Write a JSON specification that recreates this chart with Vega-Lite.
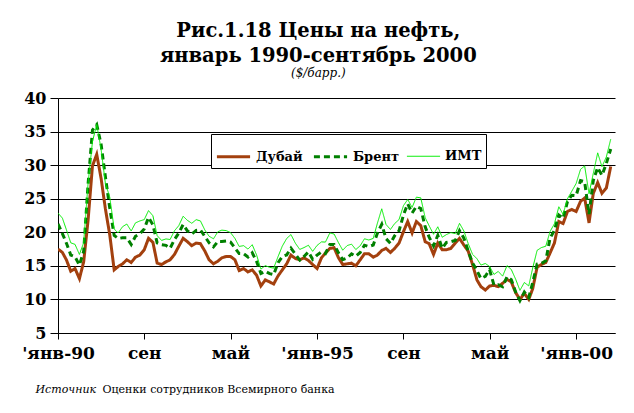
{
  "$schema": "https://vega.github.io/schema/vega-lite/v6.json",
  "width": 557,
  "height": 235,
  "autosize": {"type": "none"},
  "padding": {"left": 58, "top": 98, "right": 19, "bottom": 80},
  "background": "white",
  "title": {
    "text": ["Рис.1.18 Цены на нефть,", "январь 1990-сентябрь 2000"],
    "subtitle": "($/барр.)",
    "anchor": "middle",
    "frame": "bounds"
  },
  "data": {
    "values": [
      {"date": "1990-01-01", "Дубай": 17.5, "Брент": 21.25, "ИМТ": 22.86},
      {"date": "1990-02-01", "Дубай": 17.0, "Брент": 19.81, "ИМТ": 22.11},
      {"date": "1990-03-01", "Дубай": 15.9, "Брент": 18.39, "ИМТ": 20.39},
      {"date": "1990-04-01", "Дубай": 14.2, "Брент": 16.61, "ИМТ": 18.43},
      {"date": "1990-05-01", "Дубай": 14.6, "Брент": 16.35, "ИМТ": 18.2},
      {"date": "1990-06-01", "Дубай": 13.1, "Брент": 15.1, "ИМТ": 16.7},
      {"date": "1990-07-01", "Дубай": 15.6, "Брент": 17.17, "ИМТ": 18.45},
      {"date": "1990-08-01", "Дубай": 21.8, "Брент": 27.17, "ИМТ": 27.31},
      {"date": "1990-09-01", "Дубай": 29.9, "Брент": 35.23, "ИМТ": 33.51},
      {"date": "1990-10-01", "Дубай": 31.6, "Брент": 36.02, "ИМТ": 36.04},
      {"date": "1990-11-01", "Дубай": 28.0, "Брент": 33.07, "ИМТ": 32.33},
      {"date": "1990-12-01", "Дубай": 23.5, "Брент": 28.27, "ИМТ": 27.28},
      {"date": "1991-01-01", "Дубай": 19.6, "Брент": 23.57, "ИМТ": 25.23},
      {"date": "1991-02-01", "Дубай": 14.4, "Брент": 19.54, "ИМТ": 20.48},
      {"date": "1991-03-01", "Дубай": 14.9, "Брент": 19.08, "ИМТ": 19.9},
      {"date": "1991-04-01", "Дубай": 15.3, "Брент": 19.18, "ИМТ": 20.83},
      {"date": "1991-05-01", "Дубай": 15.9, "Брент": 19.19, "ИМТ": 21.23},
      {"date": "1991-06-01", "Дубай": 15.5, "Брент": 18.17, "ИМТ": 20.19},
      {"date": "1991-07-01", "Дубай": 16.3, "Брент": 19.4, "ИМТ": 21.4},
      {"date": "1991-08-01", "Дубай": 16.6, "Брент": 19.77, "ИМТ": 21.69},
      {"date": "1991-09-01", "Дубай": 17.4, "Брент": 20.5, "ИМТ": 21.89},
      {"date": "1991-10-01", "Дубай": 19.1, "Брент": 22.21, "ИМТ": 23.23},
      {"date": "1991-11-01", "Дубай": 18.5, "Брент": 21.11, "ИМТ": 22.46},
      {"date": "1991-12-01", "Дубай": 15.4, "Брент": 18.41, "ИМТ": 19.5},
      {"date": "1992-01-01", "Дубай": 15.2, "Брент": 18.16, "ИМТ": 18.79},
      {"date": "1992-02-01", "Дубай": 15.6, "Брент": 18.05, "ИМТ": 19.01},
      {"date": "1992-03-01", "Дубай": 15.9, "Брент": 17.63, "ИМТ": 18.92},
      {"date": "1992-04-01", "Дубай": 16.7, "Брент": 18.92, "ИМТ": 20.23},
      {"date": "1992-05-01", "Дубай": 17.9, "Брент": 19.89, "ИМТ": 20.98},
      {"date": "1992-06-01", "Дубай": 19.1, "Брент": 21.16, "ИМТ": 22.39},
      {"date": "1992-07-01", "Дубай": 18.6, "Брент": 20.21, "ИМТ": 21.78},
      {"date": "1992-08-01", "Дубай": 18.0, "Брент": 19.74, "ИМТ": 21.34},
      {"date": "1992-09-01", "Дубай": 18.4, "Брент": 20.28, "ИМТ": 21.88},
      {"date": "1992-10-01", "Дубай": 18.3, "Брент": 20.35, "ИМТ": 21.69},
      {"date": "1992-11-01", "Дубай": 17.2, "Брент": 19.38, "ИМТ": 20.34},
      {"date": "1992-12-01", "Дубай": 15.9, "Брент": 18.43, "ИМТ": 19.41},
      {"date": "1993-01-01", "Дубай": 15.3, "Брент": 17.83, "ИМТ": 19.03},
      {"date": "1993-02-01", "Дубай": 15.7, "Брент": 18.64, "ИМТ": 20.09},
      {"date": "1993-03-01", "Дубай": 16.2, "Брент": 18.62, "ИМТ": 20.32},
      {"date": "1993-04-01", "Дубай": 16.4, "Брент": 18.7, "ИМТ": 20.25},
      {"date": "1993-05-01", "Дубай": 16.4, "Брент": 18.55, "ИМТ": 19.95},
      {"date": "1993-06-01", "Дубай": 15.9, "Брент": 17.67, "ИМТ": 19.09},
      {"date": "1993-07-01", "Дубай": 14.3, "Брент": 16.83, "ИМТ": 17.89},
      {"date": "1993-08-01", "Дубай": 14.6, "Брент": 16.81, "ИМТ": 18.01},
      {"date": "1993-09-01", "Дубай": 14.1, "Брент": 16.31, "ИМТ": 17.5},
      {"date": "1993-10-01", "Дубай": 14.4, "Брент": 16.94, "ИМТ": 18.15},
      {"date": "1993-11-01", "Дубай": 13.6, "Брент": 15.65, "ИМТ": 16.61},
      {"date": "1993-12-01", "Дубай": 12.0, "Брент": 13.87, "ИМТ": 14.52},
      {"date": "1994-01-01", "Дубай": 12.9, "Брент": 14.19, "ИМТ": 15.03},
      {"date": "1994-02-01", "Дубай": 12.6, "Брент": 13.84, "ИМТ": 14.78},
      {"date": "1994-03-01", "Дубай": 12.3, "Брент": 13.69, "ИМТ": 14.66},
      {"date": "1994-04-01", "Дубай": 13.5, "Брент": 15.47, "ИМТ": 16.38},
      {"date": "1994-05-01", "Дубай": 14.4, "Брент": 16.38, "ИМТ": 17.94},
      {"date": "1994-06-01", "Дубай": 15.3, "Брент": 16.63, "ИМТ": 19.08},
      {"date": "1994-07-01", "Дубай": 16.6, "Брент": 17.63, "ИМТ": 19.66},
      {"date": "1994-08-01", "Дубай": 16.1, "Брент": 16.74, "ИМТ": 18.38},
      {"date": "1994-09-01", "Дубай": 15.9, "Брент": 15.85, "ИМТ": 17.45},
      {"date": "1994-10-01", "Дубай": 16.2, "Брент": 16.4, "ИМТ": 17.72},
      {"date": "1994-11-01", "Дубай": 15.8, "Брент": 17.07, "ИМТ": 18.07},
      {"date": "1994-12-01", "Дубай": 15.2, "Брент": 15.97, "ИМТ": 17.16},
      {"date": "1995-01-01", "Дубай": 14.6, "Брент": 16.6, "ИМТ": 18.04},
      {"date": "1995-02-01", "Дубай": 16.2, "Брент": 17.08, "ИМТ": 18.57},
      {"date": "1995-03-01", "Дубай": 16.9, "Брент": 16.84, "ИМТ": 18.54},
      {"date": "1995-04-01", "Дубай": 17.6, "Брент": 18.18, "ИМТ": 19.9},
      {"date": "1995-05-01", "Дубай": 17.7, "Брент": 18.18, "ИМТ": 19.74},
      {"date": "1995-06-01", "Дубай": 16.2, "Брент": 16.93, "ИМТ": 18.45},
      {"date": "1995-07-01", "Дубай": 15.2, "Брент": 15.92, "ИМТ": 17.33},
      {"date": "1995-08-01", "Дубай": 15.3, "Брент": 16.17, "ИМТ": 18.02},
      {"date": "1995-09-01", "Дубай": 15.4, "Брент": 16.78, "ИМТ": 18.23},
      {"date": "1995-10-01", "Дубай": 15.0, "Брент": 16.42, "ИМТ": 17.43},
      {"date": "1995-11-01", "Дубай": 15.9, "Брент": 17.0, "ИМТ": 17.99},
      {"date": "1995-12-01", "Дубай": 16.8, "Брент": 18.08, "ИМТ": 19.03},
      {"date": "1996-01-01", "Дубай": 16.8, "Брент": 17.87, "ИМТ": 18.85},
      {"date": "1996-02-01", "Дубай": 16.3, "Брент": 18.1, "ИМТ": 19.09},
      {"date": "1996-03-01", "Дубай": 16.6, "Брент": 19.86, "ИМТ": 21.33},
      {"date": "1996-04-01", "Дубай": 17.3, "Брент": 21.19, "ИМТ": 23.5},
      {"date": "1996-05-01", "Дубай": 17.6, "Брент": 19.05, "ИМТ": 21.17},
      {"date": "1996-06-01", "Дубай": 17.0, "Брент": 18.35, "ИМТ": 20.42},
      {"date": "1996-07-01", "Дубай": 17.6, "Брент": 19.49, "ИМТ": 21.3},
      {"date": "1996-08-01", "Дубай": 18.4, "Брент": 20.23, "ИМТ": 21.9},
      {"date": "1996-09-01", "Дубай": 20.1, "Брент": 22.59, "ИМТ": 23.97},
      {"date": "1996-10-01", "Дубай": 21.6, "Брент": 24.23, "ИМТ": 24.88},
      {"date": "1996-11-01", "Дубай": 19.9, "Брент": 22.86, "ИМТ": 23.71},
      {"date": "1996-12-01", "Дубай": 21.6, "Брент": 23.86, "ИМТ": 25.23},
      {"date": "1997-01-01", "Дубай": 21.0, "Брент": 23.54, "ИМТ": 25.13},
      {"date": "1997-02-01", "Дубай": 18.6, "Брент": 20.82, "ИМТ": 22.18},
      {"date": "1997-03-01", "Дубай": 18.3, "Брент": 19.28, "ИМТ": 20.97},
      {"date": "1997-04-01", "Дубай": 16.7, "Брент": 17.97, "ИМТ": 19.7},
      {"date": "1997-05-01", "Дубай": 18.4, "Брент": 19.55, "ИМТ": 20.82},
      {"date": "1997-06-01", "Дубай": 17.4, "Брент": 17.62, "ИМТ": 19.26},
      {"date": "1997-07-01", "Дубай": 17.4, "Брент": 18.49, "ИМТ": 19.66},
      {"date": "1997-08-01", "Дубай": 17.6, "Брент": 18.59, "ИМТ": 19.95},
      {"date": "1997-09-01", "Дубай": 18.4, "Брент": 18.78, "ИМТ": 19.8},
      {"date": "1997-10-01", "Дубай": 19.1, "Брент": 20.24, "ИМТ": 21.33},
      {"date": "1997-11-01", "Дубай": 18.1, "Брент": 19.12, "ИМТ": 20.19},
      {"date": "1997-12-01", "Дубай": 17.2, "Брент": 17.22, "ИМТ": 18.33},
      {"date": "1998-01-01", "Дубай": 15.2, "Брент": 15.45, "ИМТ": 16.72},
      {"date": "1998-02-01", "Дубай": 12.9, "Брент": 14.28, "ИМТ": 16.06},
      {"date": "1998-03-01", "Дубай": 11.9, "Брент": 13.11, "ИМТ": 15.12},
      {"date": "1998-04-01", "Дубай": 11.4, "Брент": 13.45, "ИМТ": 15.35},
      {"date": "1998-05-01", "Дубай": 12.0, "Брент": 14.44, "ИМТ": 14.91},
      {"date": "1998-06-01", "Дубай": 12.1, "Брент": 12.11, "ИМТ": 13.72},
      {"date": "1998-07-01", "Дубай": 11.9, "Брент": 12.19, "ИМТ": 14.17},
      {"date": "1998-08-01", "Дубай": 12.4, "Брент": 11.89, "ИМТ": 13.47},
      {"date": "1998-09-01", "Дубай": 13.0, "Брент": 13.39, "ИМТ": 15.03},
      {"date": "1998-10-01", "Дубай": 12.6, "Брент": 12.93, "ИМТ": 14.46},
      {"date": "1998-11-01", "Дубай": 11.0, "Брент": 11.08, "ИМТ": 13.0},
      {"date": "1998-12-01", "Дубай": 10.0, "Брент": 9.82, "ИМТ": 11.35},
      {"date": "1999-01-01", "Дубай": 10.9, "Брент": 11.1, "ИМТ": 12.52},
      {"date": "1999-02-01", "Дубай": 10.0, "Брент": 10.28, "ИМТ": 12.01},
      {"date": "1999-03-01", "Дубай": 11.6, "Брент": 12.51, "ИМТ": 14.68},
      {"date": "1999-04-01", "Дубай": 14.8, "Брент": 15.25, "ИМТ": 17.31},
      {"date": "1999-05-01", "Дубай": 15.2, "Брент": 15.35, "ИМТ": 17.72},
      {"date": "1999-06-01", "Дубай": 15.5, "Брент": 15.75, "ИМТ": 17.92},
      {"date": "1999-07-01", "Дубай": 16.9, "Брент": 19.1, "ИМТ": 20.1},
      {"date": "1999-08-01", "Дубай": 18.4, "Брент": 20.31, "ИМТ": 21.28},
      {"date": "1999-09-01", "Дубай": 21.6, "Брент": 22.58, "ИМТ": 23.8},
      {"date": "1999-10-01", "Дубай": 21.3, "Брент": 22.08, "ИМТ": 22.69},
      {"date": "1999-11-01", "Дубай": 23.1, "Брент": 24.58, "ИМТ": 25.0},
      {"date": "1999-12-01", "Дубай": 23.4, "Брент": 25.52, "ИМТ": 26.1},
      {"date": "2000-01-01", "Дубай": 23.1, "Брент": 25.45, "ИМТ": 27.26},
      {"date": "2000-02-01", "Дубай": 24.6, "Брент": 27.7, "ИМТ": 29.37},
      {"date": "2000-03-01", "Дубай": 25.1, "Брент": 27.52, "ИМТ": 29.89},
      {"date": "2000-04-01", "Дубай": 21.4, "Брент": 22.71, "ИМТ": 25.74},
      {"date": "2000-05-01", "Дубай": 25.8, "Брент": 27.72, "ИМТ": 28.78},
      {"date": "2000-06-01", "Дубай": 27.4, "Брент": 29.65, "ИМТ": 31.83},
      {"date": "2000-07-01", "Дубай": 25.8, "Брент": 28.47, "ИМТ": 29.77},
      {"date": "2000-08-01", "Дубай": 26.6, "Брент": 30.26, "ИМТ": 31.22},
      {"date": "2000-09-01", "Дубай": 29.8, "Брент": 32.4, "ИМТ": 33.88}
    ]
  },
  "transform": [
    {"fold": ["Дубай", "Брент", "ИМТ"], "as": ["series", "price"]}
  ],
  "mark": {"type": "line", "clip": true},
  "encoding": {
    "x": {
      "field": "date",
      "type": "temporal",
      "scale": {
        "type": "utc",
        "domain": [
          {"year": 1990, "month": 1, "date": 1, "utc": true},
          {"year": 2000, "month": 10, "date": 1, "utc": true}
        ]
      },
      "axis": {
        "values": [
          {"year": 1990, "month": 1, "date": 1, "utc": true},
          {"year": 1991, "month": 9, "date": 1, "utc": true},
          {"year": 1993, "month": 5, "date": 1, "utc": true},
          {"year": 1995, "month": 1, "date": 1, "utc": true},
          {"year": 1996, "month": 9, "date": 1, "utc": true},
          {"year": 1998, "month": 5, "date": 1, "utc": true},
          {"year": 2000, "month": 1, "date": 1, "utc": true}
        ],
        "labelExpr": "utcmonth(datum.value) == 0 ? \"'янв-\" + utcFormat(datum.value, '%y') : (utcmonth(datum.value) == 8 ? 'сен' : 'май')",
        "grid": false,
        "domainColor": "black",
        "domainWidth": 1,
        "tickColor": "black",
        "tickSize": 6,
        "labelFont": "DejaVu Serif",
        "labelFontSize": 17,
        "labelFontWeight": "bold",
        "labelColor": "black",
        "labelPadding": 6,
        "labelFlush": false,
        "labelOverlap": false,
        "title": "Оценки сотрудников Всемирного банка",
        "titleFont": "DejaVu Serif",
        "titleFontSize": 11,
        "titleFontWeight": "normal",
        "titleColor": "black",
        "titleX": 44,
        "titleY": 59,
        "titleAlign": "left",
        "titleBaseline": "alphabetic"
      }
    },
    "y": {
      "field": "price",
      "type": "quantitative",
      "scale": {"domain": [5, 40], "nice": false, "zero": false},
      "axis": {
        "values": [5, 10, 15, 20, 25, 30, 35, 40],
        "grid": true,
        "gridColor": "black",
        "gridWidth": 1,
        "gridOpacity": 1,
        "domainColor": "black",
        "tickColor": "black",
        "tickSize": 8,
        "labelFont": "DejaVu Serif",
        "labelFontSize": 16,
        "labelFontWeight": "bold",
        "labelColor": "black",
        "labelPadding": 4,
        "title": "Источник",
        "titleAngle": 0,
        "titleFont": "DejaVu Serif",
        "titleFontSize": 11,
        "titleFontStyle": "italic",
        "titleFontWeight": "normal",
        "titleColor": "black",
        "titleX": -23,
        "titleY": 294,
        "titleAlign": "left",
        "titleBaseline": "alphabetic"
      }
    },
    "color": {
      "field": "series",
      "type": "nominal",
      "scale": {"domain": ["Дубай", "Брент", "ИМТ"], "range": ["#A3400E", "#008000", "#00EE00"]},
      "legend": {"title": null}
    },
    "strokeDash": {
      "field": "series",
      "type": "nominal",
      "scale": {"domain": ["Дубай", "Брент", "ИМТ"], "range": [[1, 0], [6, 4], [1, 0]]},
      "legend": {"title": null}
    },
    "strokeWidth": {
      "field": "series",
      "type": "nominal",
      "scale": {"type": "ordinal", "domain": ["Дубай", "Брент", "ИМТ"], "range": [3, 3, 1]},
      "legend": {"title": null}
    }
  },
  "config": {
    "view": {"stroke": null},
    "title": {
      "font": "DejaVu Serif",
      "fontSize": 19.5,
      "fontWeight": "bold",
      "color": "black",
      "lineHeight": 25,
      "subtitleFont": "DejaVu Serif",
      "subtitleFontStyle": "italic",
      "subtitleFontSize": 12,
      "subtitleColor": "black",
      "subtitlePadding": 2,
      "offset": 10
    },
    "legend": {
      "orient": "none",
      "legendX": 153,
      "legendY": 36,
      "direction": "horizontal",
      "strokeColor": "black",
      "fillColor": "white",
      "padding": 4,
      "symbolType": "stroke",
      "symbolSize": 1100,
      "labelFont": "DejaVu Serif",
      "labelFontSize": 13,
      "labelFontWeight": "bold",
      "labelColor": "black",
      "columnPadding": 4,
      "labelOffset": 4
    }
  }
}
